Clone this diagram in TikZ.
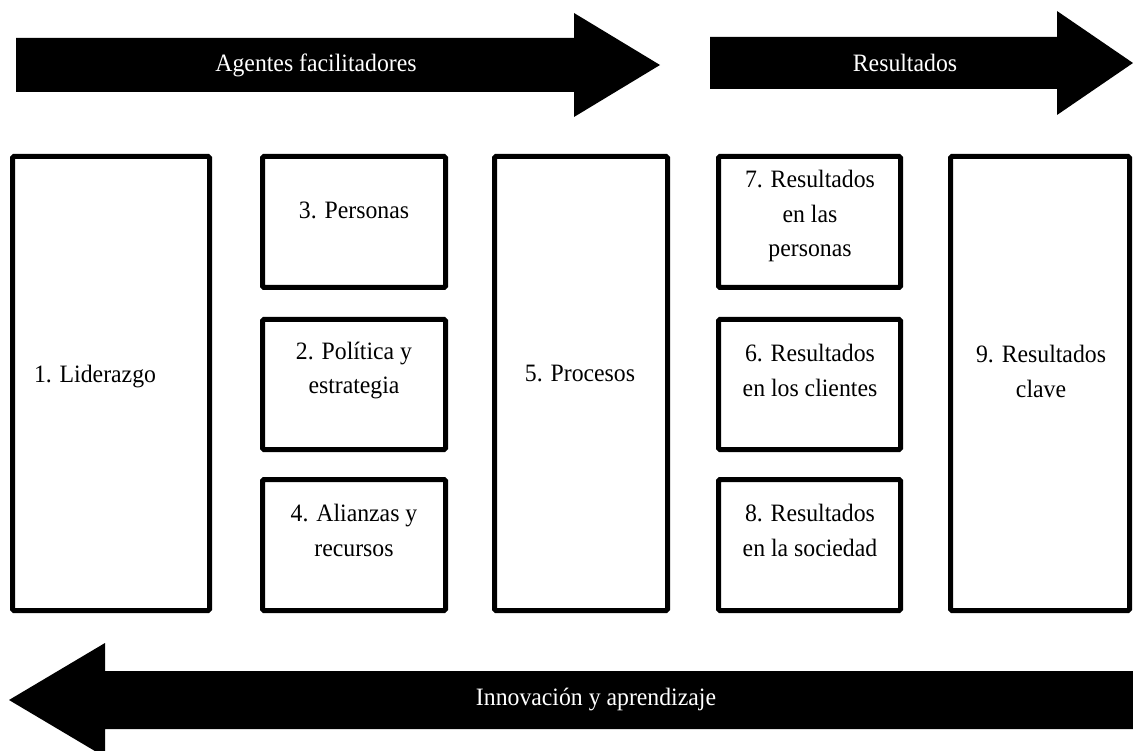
\documentclass[tikz,border=0pt]{standalone}
\usepackage{fontspec}
\setmainfont{Liberation Serif}[FakeStretch=0.95]
\begin{document}
\begin{tikzpicture}[x=1pt,y=-1pt,
  box/.style={draw=black, line width=5pt, fill=white, rounded corners=1.5pt, inner sep=0pt},
  lbl/.style={font=\fontsize{25}{34.5}\selectfont, align=center, inner sep=0pt},
  band/.style={fill=black},
  bandtext/.style={lbl, text=white}]
\useasboundingbox (0,0) rectangle (1133,751);
\clip (0,0) rectangle (1133,751);
\fill[white] (0,0) rectangle (1133,751);

% arrow bands
\fill[band] (16,38) -- (574,38) -- (574,13) -- (660,65) -- (574,117) -- (574,92) -- (16,92) -- cycle;
\fill[band] (710,37) -- (1057,37) -- (1057,11) -- (1133,63) -- (1057,115) -- (1057,89) -- (710,89) -- cycle;
\fill[band] (1140,671) -- (105,671) -- (105,643) -- (9,700) -- (105,757) -- (105,729) -- (1140,729) -- cycle;

\node[bandtext] (agentes) at (316,65) {Agentes facilitadores};
\node[bandtext] (resultados) at (905,63) {Resultados};
\node[bandtext] (innov) at (596,700) {Innovación y aprendizaje};

% criterion boxes
\node[box, minimum width=197pt, minimum height=454pt] (b1) at (111,383.5) {};
\node[box, minimum width=183pt, minimum height=131pt] (b3) at (354,222) {};
\node[box, minimum width=183pt, minimum height=130pt] (b2) at (354,384.5) {};
\node[box, minimum width=183pt, minimum height=131pt] (b4) at (354,545) {};
\node[box, minimum width=173pt, minimum height=454pt] (b5) at (581,383.5) {};
\node[box, minimum width=182pt, minimum height=131pt] (b7) at (809.5,222) {};
\node[box, minimum width=182pt, minimum height=130pt] (b6) at (809.5,384.5) {};
\node[box, minimum width=182pt, minimum height=131pt] (b8) at (809.5,545) {};
\node[box, minimum width=179pt, minimum height=454pt] (b9) at (1040,383.5) {};

% criterion labels
\node[lbl] (t1) at (95,377) {1. Liderazgo};
\node[lbl] (t3) at (354,210) {3. Personas};
\node[lbl] (t2) at (354,370.5) {2. Política y\\estrategia};
\node[lbl] (t4) at (354,530.5) {4. Alianzas y\\recursos};
\node[lbl] (t5) at (580,373) {5. Procesos};
\node[lbl] (t7) at (810,216) {7. Resultados\\en las\\personas};
\node[lbl] (t6) at (810,370.5) {6. Resultados\\en los clientes};
\node[lbl] (t8) at (810,530.5) {8. Resultados\\en la sociedad};
\node[lbl] (t9) at (1041,371.5) {9. Resultados\\clave};
\end{tikzpicture}
\end{document}
